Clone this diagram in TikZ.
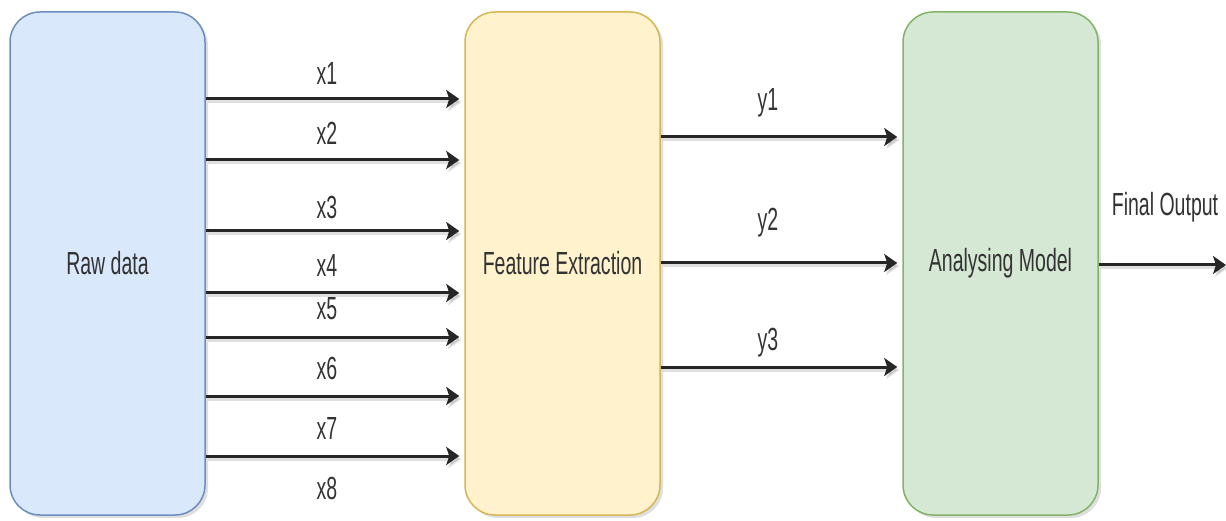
\documentclass[tikz,border=0pt]{standalone}
\usepackage{fontspec}
\newfontfamily\labfont{Liberation Sans}[FakeStretch=0.61]
\usetikzlibrary{arrows.meta,shadows}
\definecolor{txt}{HTML}{333333}
\definecolor{bfill}{HTML}{DAE8FC}\definecolor{bdraw}{HTML}{6C8EBF}
\definecolor{yfill}{HTML}{FFF2CC}\definecolor{ydraw}{HTML}{D6B656}
\definecolor{gfill}{HTML}{D5E8D4}\definecolor{gdraw}{HTML}{82B366}
\tikzset{
  block/.style={rectangle, rounded corners=30pt, minimum width=195pt, minimum height=503pt,
    line width=1.5pt, font=\labfont\fontsize{32}{34}\selectfont, text=txt,
    drop shadow={shadow xshift=3pt, shadow yshift=-3pt, opacity=0.25, fill=gray}},
  arr/.style={line width=3pt, draw=black!85, -{Stealth[length=13pt,width=18pt,inset=3pt]}, shorten >=5pt,
    preaction={draw=gray, opacity=0.25, line width=3pt, transform canvas={shift={(2pt,-3pt)}}}},
  lab/.style={font=\labfont\fontsize{32}{34}\selectfont, text=txt, inner sep=0pt}
}
\begin{document}
\begin{tikzpicture}[x=1pt,y=-1pt]
\useasboundingbox (0,0) rectangle (1226,521);
\node[block, fill=bfill, draw=bdraw] (raw) at (107.5,263.5) {Raw data};
\node[block, fill=yfill, draw=ydraw] (feat) at (562.5,263.5) {Feature Extraction};
\node[block, fill=gfill, draw=gdraw] (model) at (1000.5,263.5) {Analysing Model};
% x arrows
\foreach \i/\y in {1/99,2/160,3/231,4/293,5/337,6/396,7/456}{
  \draw[arr] (raw.east |- 0,\y) -- (feat.west |- 0,\y);
}
\node[lab] (lx1) at (327,73) {x1};
\node[lab] (lx2) at (327,133) {x2};
\node[lab] (lx3) at (327,207) {x3};
\node[lab] (lx4) at (327,265) {x4};
\node[lab] (lx5) at (327,309) {x5};
\node[lab] (lx6) at (327,368) {x6};
\node[lab] (lx7) at (327,428) {x7};
\node[lab] (lx8) at (327,488) {x8};
% y arrows
\foreach \y in {137,263,367}{
  \draw[arr] (feat.east |- 0,\y) -- (model.west |- 0,\y);
}
\node[lab] (ly1) at (768,103) {y1};
\node[lab] (ly2) at (768,223) {y2};
\node[lab] (ly3) at (768,343) {y3};
% final output
\coordinate (out) at (1226,265);
\draw[arr, shorten >=0pt] (model.east |- out) -- (out);
\node[lab] (lout) at (1165,207) {Final Output};
\end{tikzpicture}
\end{document}
